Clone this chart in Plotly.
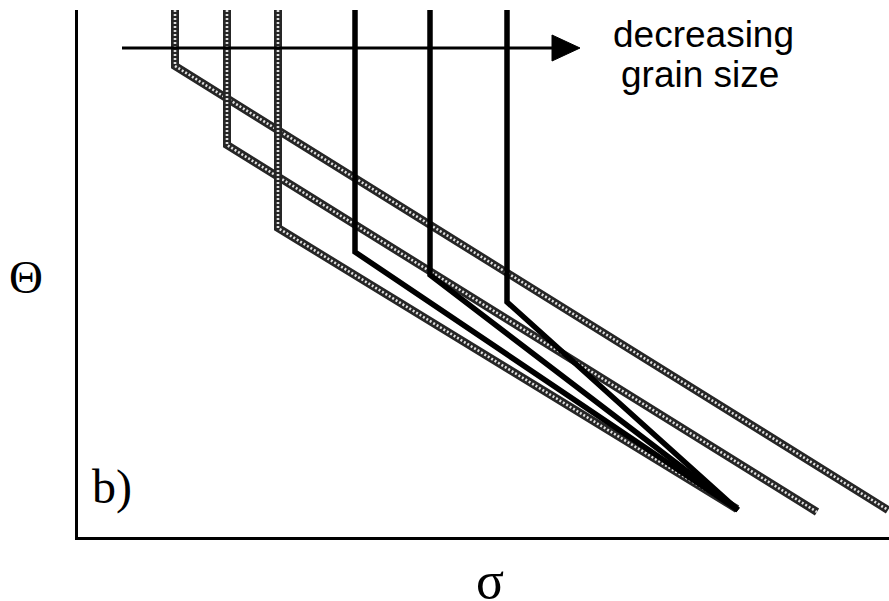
import plotly.graph_objects as go

# Stress (sigma) and temperature-like Theta coordinates, arbitrary units
gray_sigma = [
    [97, 97, 810],     # largest grain size
    [149, 149, 739],
    [200, 200, 659],
]
gray_theta = [
    [527, 471, 27],
    [527, 392, 25],
    [527, 309, 28],
]
black_sigma = [
    [277, 277, 660],
    [352, 352, 660],
    [429, 429, 660],
]
black_theta = [
    [527, 285, 27],
    [527, 262, 27],
    [527, 235, 27],
]

W, H = 889, 601
L, R, T, B = 78, 0, 10, 64
X_MAX = W - L - R
Y_MAX = H - T - B

fig = go.Figure()

for xs, ys in zip(gray_sigma, gray_theta):
    fig.add_trace(go.Scatter(x=xs, y=ys, mode="lines",
                             line=dict(color="#262626", width=8),
                             hoverinfo="skip", showlegend=False))
    fig.add_trace(go.Scatter(x=xs, y=ys, mode="lines",
                             line=dict(color="#e0e0e0", width=2.6, dash="2px,2px"),
                             hoverinfo="skip", showlegend=False))

for xs, ys in zip(black_sigma, black_theta):
    fig.add_trace(go.Scatter(x=xs, y=ys, mode="lines",
                             line=dict(color="black", width=5.5),
                             hoverinfo="skip", showlegend=False))

# arrow "decreasing grain size"
arrow_y = 489
arrow_x0, arrow_x1 = 44, 474
head_tip, head_half = 502, 13
fig.add_shape(type="line", x0=arrow_x0, x1=arrow_x1 + 2, y0=arrow_y, y1=arrow_y,
              xref="x", yref="y", line=dict(color="black", width=3))
fig.add_shape(type="path", xref="x", yref="y",
              path=f"M {arrow_x1} {arrow_y - head_half} L {head_tip} {arrow_y} L {arrow_x1} {arrow_y + head_half} Z",
              fillcolor="black", line=dict(color="black", width=1))


def px_x(p):
    return (p - L) / X_MAX


def px_y(p):
    return (H - B - p) / Y_MAX


sans = dict(family="Liberation Sans, Arial, sans-serif", size=37, color="black")
serif = "Liberation Serif, Times New Roman, serif"

fig.add_annotation(x=px_x(703), y=px_y(34), xref="paper", yref="paper", text="decreasing",
                   showarrow=False, xanchor="center", yanchor="middle", font=sans)
fig.add_annotation(x=px_x(700), y=px_y(75), xref="paper", yref="paper", text="grain size",
                   showarrow=False, xanchor="center", yanchor="middle", font=sans)
fig.add_annotation(x=px_x(90), y=px_y(487), xref="paper", yref="paper", text="b)",
                   showarrow=False, xanchor="left", yanchor="middle",
                   font=dict(family=serif, size=48, color="black"))
fig.add_annotation(x=px_x(26), y=px_y(277), xref="paper", yref="paper", text="Θ",
                   showarrow=False, xanchor="center", yanchor="middle",
                   font=dict(family=serif, size=47, color="black"))
fig.add_annotation(x=px_x(490), y=px_y(580), xref="paper", yref="paper", text="σ",
                   showarrow=False, xanchor="center", yanchor="middle",
                   font=dict(family=serif, size=52, color="black"))

fig.update_xaxes(range=[0, X_MAX], showline=True, linecolor="black", linewidth=3,
                 showgrid=False, zeroline=False, showticklabels=False, ticks="", mirror=False)
fig.update_yaxes(range=[0, Y_MAX], showline=True, linecolor="black", linewidth=3,
                 showgrid=False, zeroline=False, showticklabels=False, ticks="", mirror=False)

fig.update_layout(width=W, height=H, margin=dict(l=L, r=R, t=T, b=B),
                  plot_bgcolor="white", paper_bgcolor="white", showlegend=False)

fig.write_html("out.html", config={"displayModeBar": False},
               post_script="document.body.style.margin='0';document.body.style.overflow='hidden';")
